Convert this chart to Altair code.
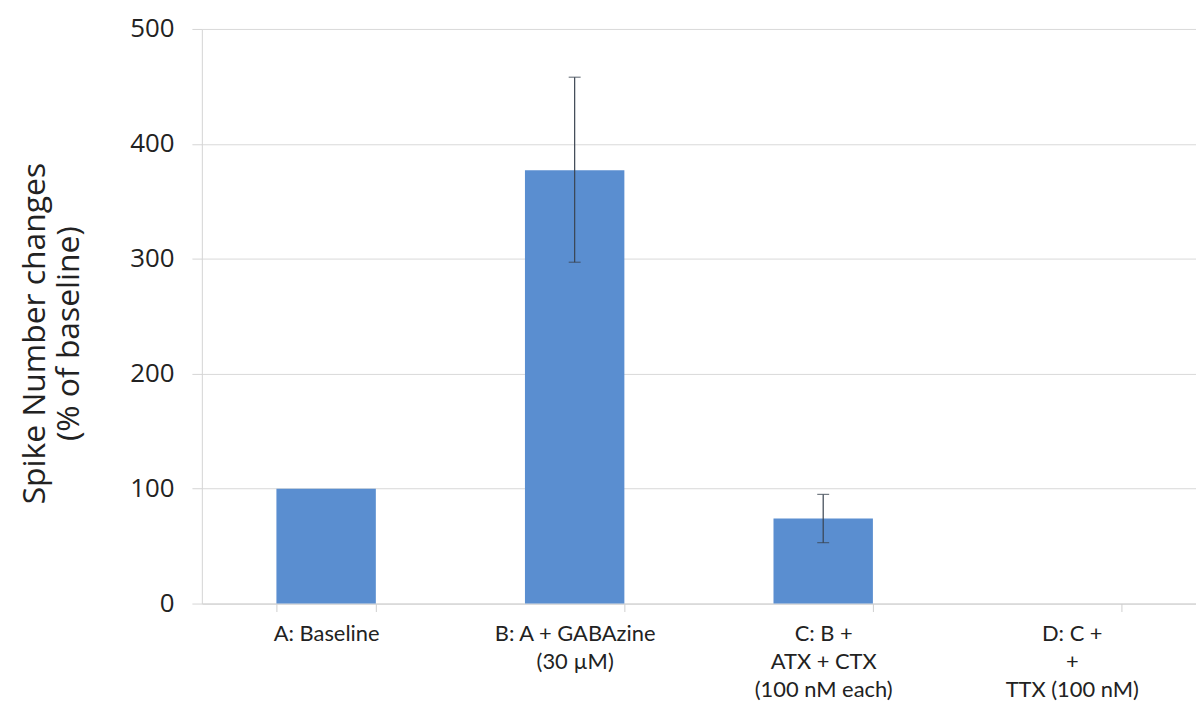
import altair as alt
import pandas as pd

categories = ["A: Baseline", "B: A + GABAzine|(30 µM)", "C: B +|ATX + CTX|(100 nM each)", "D: C +|+|TTX (100 nM)"]
values = [100, 377, 74, 0]
err_lo = [100, 297, 53, None]
err_hi = [100, 458, 95, None]

df = pd.DataFrame({"cat": categories, "val": values, "lo": err_lo, "hi": err_hi})
df_err = df.dropna().iloc[1:]

x_enc = alt.X("cat:N", sort=categories,
              scale=alt.Scale(paddingInner=0.6, paddingOuter=0.3),
              axis=alt.Axis(title=None, labelAngle=0,
                            labelExpr="split(datum.label, '|')",
                            labelFont="Lato", labelFontSize=22, labelColor="#222",
                            labelLineHeight=28, labelPadding=12,
                            tickBand="extent", tickSize=8, tickColor="#cfcfcf",
                            domainColor="#cfcfcf", grid=False))

y_scale = alt.Scale(domain=[0, 500])

bars = alt.Chart(df).mark_bar(color="#5A8ED0").encode(
    x=x_enc,
    y=alt.Y("val:Q", scale=y_scale,
            axis=alt.Axis(values=[0, 100, 200, 300, 400, 500],
                          title=["Spike Number changes", "(% of baseline)"],
                          titleFont="Open Sans", titleFontSize=32, titleFontWeight="normal",
                          titleColor="#222", titlePadding=44, titleLineHeight=35,
                          titleY=306,
                          labelFont="Open Sans", labelFontSize=26, labelColor="#222",
                          labelPadding=18, tickSize=10, tickColor="#d5d5d5",
                          domainColor="#d5d5d5", gridColor="#d9d9d9")),
)

rules = alt.Chart(df_err).mark_rule(color="#3a4450", strokeWidth=1.2).encode(
    x=alt.X("cat:N", sort=categories),
    y=alt.Y("lo:Q", scale=y_scale),
    y2="hi:Q",
)
caps_lo = alt.Chart(df_err).mark_tick(color="#3a4450", orient="horizontal", size=12, thickness=1.2).encode(
    x=alt.X("cat:N", sort=categories),
    y=alt.Y("lo:Q", scale=y_scale),
)
caps_hi = alt.Chart(df_err).mark_tick(color="#3a4450", orient="horizontal", size=12, thickness=1.2).encode(
    x=alt.X("cat:N", sort=categories),
    y=alt.Y("hi:Q", scale=y_scale),
)

chart = alt.layer(bars, rules, caps_lo, caps_hi).properties(
    width=1000, height=578,
    autosize=alt.AutoSizeParams(type="none"),
    padding={"left": 195, "top": 19, "right": 0, "bottom": 104},
).configure_view(stroke=None)

chart.save("out.html", embed_options={"renderer": "svg", "actions": False})
